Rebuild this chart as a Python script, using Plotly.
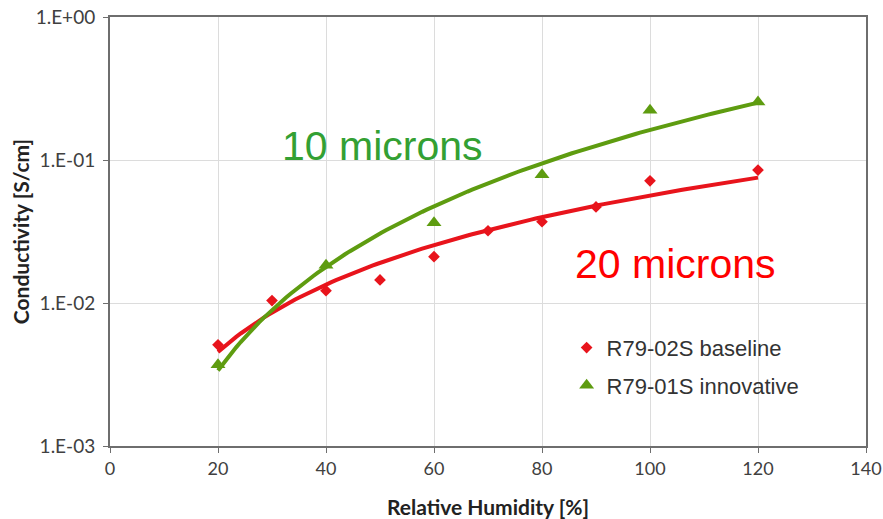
import numpy as np
import plotly.graph_objects as go

# Data
rh_baseline = [20, 30, 40, 50, 60, 70, 80, 90, 100, 120]
cond_baseline = [0.0051, 0.0104, 0.0122, 0.0145, 0.0211, 0.032, 0.037, 0.047, 0.0715, 0.085]
rh_innov = [20, 40, 60, 80, 100, 120]
cond_innov = [0.0037, 0.0184, 0.0364, 0.079, 0.223, 0.254]

y_tickvals = [1e-3, 1e-2, 1e-1, 1]
y_ticktext = ["1.E-03", "1.E-02", "1.E-01", "1.E+00"]
x_tickvals = [0, 20, 40, 60, 80, 100, 120, 140]

RED = "#e8141c"
GREEN = "#5e9c10"

def power_fit(x, y):
    b, loga = np.polyfit(np.log(x), np.log(y), 1)
    xs = np.linspace(min(x), max(x), 120)
    return xs, np.exp(loga) * xs ** b

fig = go.Figure()

xs, ys = power_fit(rh_baseline, cond_baseline)
fig.add_trace(go.Scatter(x=xs, y=ys, mode="lines", line=dict(color=RED, width=4),
                         showlegend=False, hoverinfo="skip"))
xs, ys = power_fit(rh_innov, cond_innov)
fig.add_trace(go.Scatter(x=xs, y=ys, mode="lines", line=dict(color=GREEN, width=4),
                         showlegend=False, hoverinfo="skip"))

fig.add_trace(go.Scatter(x=rh_baseline, y=cond_baseline, mode="markers",
                         name="R79-02S baseline", legendgroup="a",
                         marker=dict(symbol="diamond", size=9, color=RED)))
fig.add_trace(go.Scatter(x=rh_innov, y=cond_innov, mode="markers",
                         name="R79-01S innovative", legendgroup="b",
                         marker=dict(symbol="triangle-up", size=13, color=GREEN)))

fig.add_annotation(text="10 microns", xref="paper", yref="paper", x=0.36, y=0.70,
                   xanchor="center", yanchor="middle",
                   showarrow=False, font=dict(family="Liberation Sans", size=41, color="#33a033"))
fig.add_annotation(text="20 microns", xref="paper", yref="paper", x=0.748, y=0.425,
                   xanchor="center", yanchor="middle",
                   showarrow=False, font=dict(family="Liberation Sans", size=41, color="#ff0000"))

fig.update_layout(
    width=883, height=519,
    margin=dict(l=110, r=17, t=16.5, b=72.5),
    paper_bgcolor="white", plot_bgcolor="white",
    font=dict(family="Lato", color="#404040"),
    legend=dict(x=0.604, y=0.278, xanchor="left", yanchor="top",
                font=dict(family="Liberation Sans", size=22, color="#333333"),
                bgcolor="rgba(0,0,0,0)", traceorder="grouped", tracegroupgap=6,
                itemwidth=30),
    xaxis=dict(range=[0, 140], tickvals=x_tickvals, showgrid=True, gridcolor="#dcdcdc",
               showline=True, linecolor="#6e6e6e", linewidth=2, mirror=True,
               ticks="outside", ticklen=5, tickcolor="#6e6e6e", zeroline=False,
               automargin=False,
               tickfont=dict(size=18, family="Lato", color="#404040"),
               title=dict(text="<b>Relative Humidity [%]</b>", standoff=26,
                          font=dict(size=21, family="Lato", color="#222222"))),
    yaxis=dict(type="log", range=[-3, 0], tickvals=y_tickvals, ticktext=y_ticktext,
               showgrid=True, gridcolor="#dcdcdc",
               showline=True, linecolor="#6e6e6e", linewidth=2, mirror=True,
               ticks="outside", ticklen=5, tickcolor="#6e6e6e", zeroline=False,
               automargin=False, ticklabelstandoff=4,
               tickfont=dict(size=19, family="Lato", color="#404040"),
               title=dict(text="<b>Conductivity [S/cm]</b>", standoff=0,
                          font=dict(size=21, family="Lato", color="#222222"))),
)

fig.write_html("out.html", config={"displayModeBar": False},
               post_script="document.body.style.margin='0';")
